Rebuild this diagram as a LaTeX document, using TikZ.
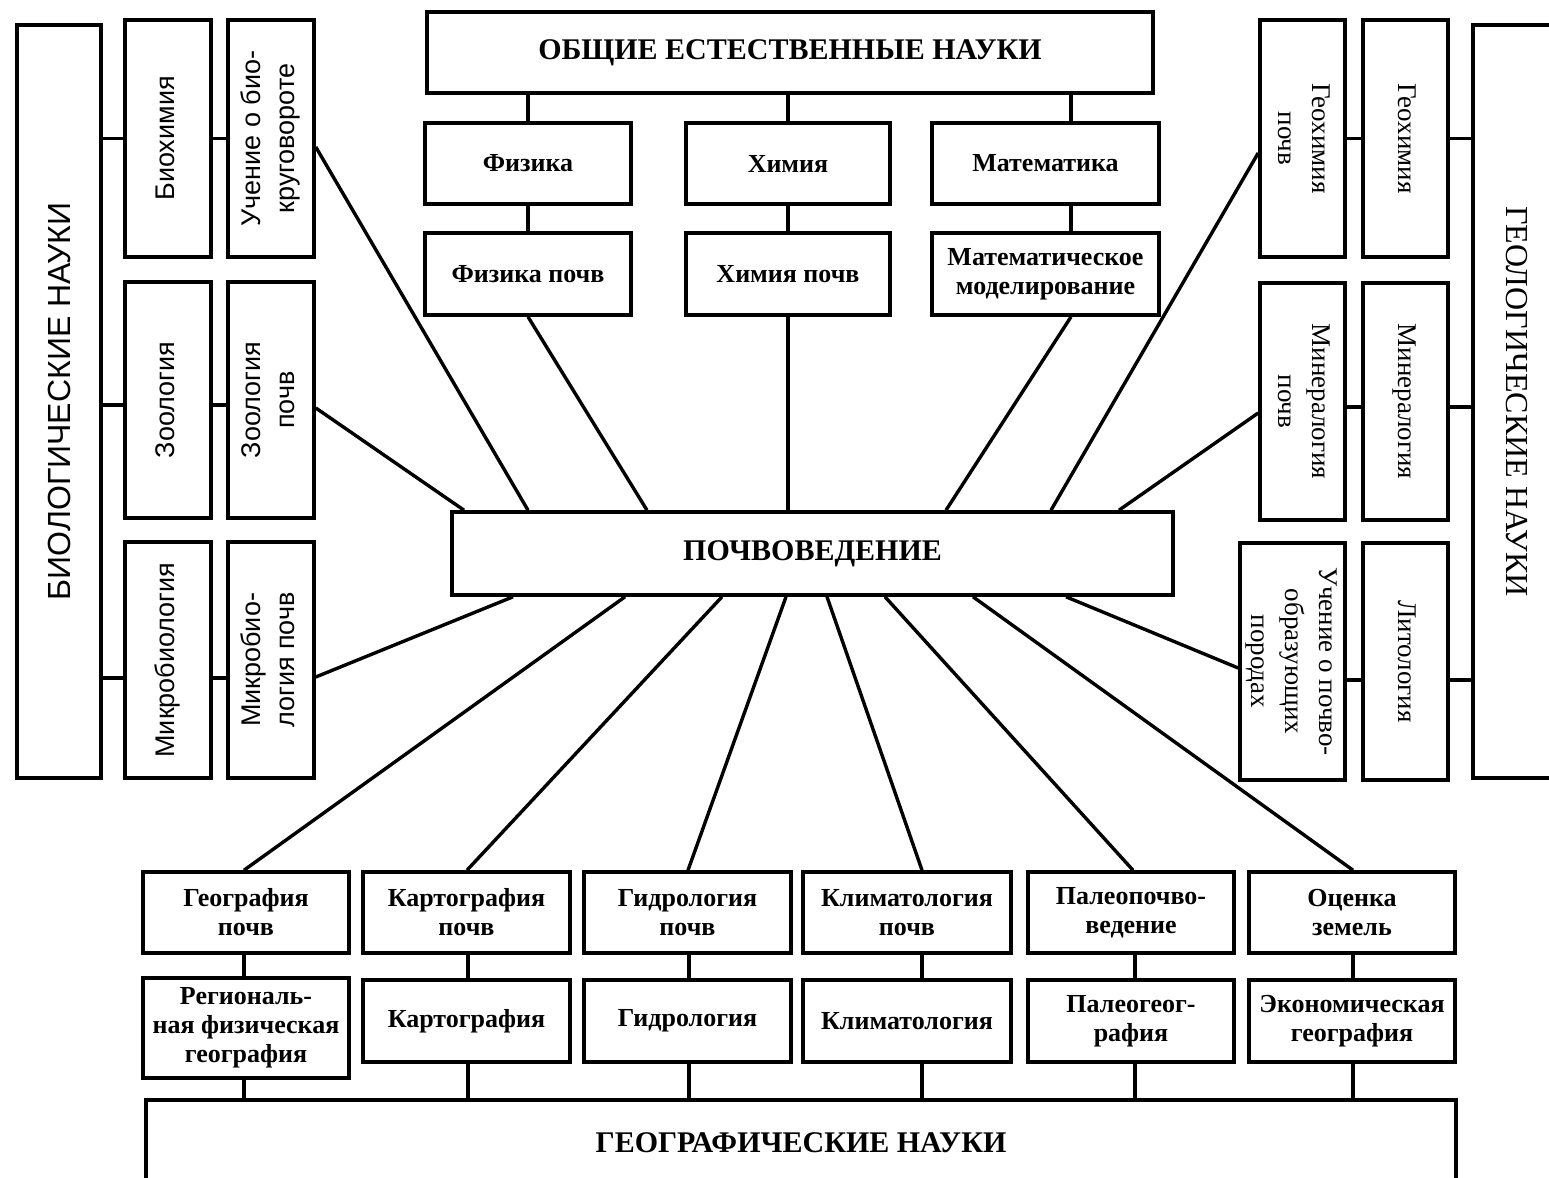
\documentclass[tikz,border=0pt]{standalone}
\usepackage{fontspec}
\usepackage{graphicx}
\setmainfont{Liberation Serif}
\newfontfamily\sansf{Liberation Sans}
\newcommand\ttlfont{\fontsize{15}{18}\selectfont\bfseries}
\newcommand\lblfont{\fontsize{13}{14.5}\selectfont\bfseries}
\newcommand\sidefont{\fontsize{13.5}{17}\selectfont}
\newcommand\rl[1]{\rotatebox{90}{\begin{tabular}{@{}c@{}}#1\end{tabular}}}
\newcommand\rr[1]{\rotatebox{-90}{\begin{tabular}{@{}c@{}}#1\end{tabular}}}
\begin{document}
\begin{tikzpicture}[x=0.5pt,y=-0.5pt,
  box/.style={draw, line width=1.8pt, inner sep=0pt, align=center, font=\lblfont},
  ttl/.style={box, font=\ttlfont},
  lbox/.style={draw, line width=1.8pt, inner sep=0pt, font=\sansf\sidefont},
  rbox/.style={draw, line width=1.8pt, inner sep=0pt, font=\sidefont},
  sz/.style 2 args={minimum width=#1*0.5pt, minimum height=#2*0.5pt},
  ln/.style={line width=1.7pt}]
\useasboundingbox (0,0) rectangle (1549,1178);
\clip (0,0) rectangle (1549,1178);

% top block
\node[ttl, sz={726}{81}] (ob) at (790,52.5) {ОБЩИЕ ЕСТЕСТВЕННЫЕ НАУКИ};
\node[box, sz={206}{81}] (fiz) at (528,163.5) {Физика};
\node[box, sz={204}{81}] (him) at (788,163.5) {Химия};
\node[box, sz={227}{81}] (mat) at (1045.5,163.5) {Математика};
\node[box, sz={206}{82}] (fizp) at (528,274) {Физика почв};
\node[box, sz={204}{82}] (himp) at (788,274) {Химия почв};
\node[box, sz={227}{82}] (matm) at (1045.5,274) {Математическое\\моделирование};

% centre
\node[ttl, sz={721}{83}] (pv) at (812.5,553.5) {ПОЧВОВЕДЕНИЕ};

% left block
\node[lbox, sz={84}{753}] (bio) at (59,401.5) {\rotatebox{90}{\fontsize{16}{19}\selectfont БИОЛОГИЧЕСКИЕ НАУКИ}};
\node[lbox, sz={86}{237}] (bhim) at (168,138.5) {\rl{Биохимия}};
\node[lbox, sz={86}{237}] (ubk) at (271,138.5) {\rl{Учение о био-\\круговороте}};
\node[lbox, sz={86}{236}] (zoo) at (168,400) {\rl{Зоология}};
\node[lbox, sz={86}{236}] (zoop) at (271,400) {\rl{Зоология\\почв}};
\node[lbox, sz={86}{236}] (mic) at (168,660) {\rl{Микробиология}};
\node[lbox, sz={86}{236}] (micp) at (271,660) {\rl{Микробио-\\логия почв}};

% right block
\node[rbox, sz={87}{753}] (geol) at (1516.5,401.5) {\rotatebox{-90}{\fontsize{16}{19}\selectfont ГЕОЛОГИЧЕСКИЕ НАУКИ}};
\node[rbox, sz={85}{237}] (ghp) at (1302.5,138.5) {\rr{Геохимия\\почв}};
\node[rbox, sz={85}{237}] (gh) at (1405.5,138.5) {\rr{Геохимия}};
\node[rbox, sz={85}{237}] (mnp) at (1302.5,401.5) {\rr{Минералогия\\почв}};
\node[rbox, sz={85}{237}] (mn) at (1405.5,401.5) {\rr{Минералогия}};
\node[rbox, sz={105}{237}] (upp) at (1292.5,661.5) {\rr{Учение о почво-\\образующих\\породах}};
\node[rbox, sz={85}{237}] (lit) at (1405.5,661.5) {\rr{Литология}};

% bottom block
\node[box, sz={206}{81}] (g1) at (246,912.5) {География\\почв};
\node[box, sz={206}{100}] (g2) at (246,1028) {Региональ-\\ная физическая\\география};
\node[box, sz={207}{81}] (k1) at (466.5,912.5) {Картография\\почв};
\node[box, sz={207}{82}] (k2) at (466.5,1021) {Картография};
\node[box, sz={207}{81}] (h1) at (687.5,912.5) {Гидрология\\почв};
\node[box, sz={207}{82}] (h2) at (687.5,1021) {Гидрология};
\node[box, sz={208}{81}] (c1) at (907,912.5) {Климатология\\почв};
\node[box, sz={208}{82}] (c2) at (907,1021) {Климатология};
\node[box, sz={206}{81}] (p1) at (1131,912.5) {Палеопочво-\\ведение};
\node[box, sz={206}{82}] (p2) at (1131,1021) {Палеогеог-\\рафия};
\node[box, sz={206}{81}] (o1) at (1352,912.5) {Оценка\\земель};
\node[box, sz={206}{82}] (o2) at (1352,1021) {Экономическая\\география};
\node[ttl, sz={1310}{85}] (geo) at (801,1142.5) {ГЕОГРАФИЧЕСКИЕ НАУКИ};

% top connectors
\draw[ln] (ob.south -| fiz) -- (fiz.north);
\draw[ln] (ob.south -| him) -- (him.north);
\draw[ln] (ob.south -| 1071,0) -- (mat.north -| 1071,0);
\draw[ln] (fiz.south) -- (fizp.north);
\draw[ln] (him.south) -- (himp.north);
\draw[ln] (mat.south -| 1071,0) -- (matm.north -| 1071,0);

% radial connectors, upper side
\draw[ln] (fizp.south) -- (pv.north -| 647,0);
\draw[ln] (himp.south) -- (himp.south |- pv.north);
\draw[ln] (matm.south -| 1071,0) -- (pv.north -| 946,0);
\draw[ln] (ubk.east |- 0,147) -- (pv.north -| 528,0);
\draw[ln] (zoop.east |- 0,408) -- (pv.north -| 464,0);
\draw[ln] (ghp.west |- 0,153) -- (pv.north -| 1051,0);
\draw[ln] (mnp.west |- 0,413) -- (pv.north -| 1119,0);

% radial connectors, lower side
\draw[ln] (micp.east |- 0,677) -- (pv.south -| 513,0);
\draw[ln] (upp.west |- 0,668) -- (pv.south -| 1066,0);
\draw[ln] (pv.south -| 625,0) -- (g1.north -| 244,0);
\draw[ln] (pv.south -| 722,0) -- (k1.north -| 467,0);
\draw[ln] (pv.south -| 786,0) -- (h1.north -| 688,0);
\draw[ln] (pv.south -| 827,0) -- (c1.north -| 922,0);
\draw[ln] (pv.south -| 885,0) -- (p1.north -| 1133,0);
\draw[ln] (pv.south -| 973,0) -- (o1.north -| 1353,0);

% left horizontal connectors
\draw[ln] (bio.east |- bhim) -- (bhim.west);
\draw[ln] (bhim.east) -- (ubk.west);
\draw[ln] (bio.east |- 0,405) -- (zoo.west |- 0,405);
\draw[ln] (zoo.east |- 0,405) -- (zoop.west |- 0,405);
\draw[ln] (bio.east |- 0,678) -- (mic.west |- 0,678);
\draw[ln] (mic.east |- 0,678) -- (micp.west |- 0,678);

% right horizontal connectors
\draw[ln] (ghp.east) -- (gh.west);
\draw[ln] (gh.east) -- (geol.west |- gh);
\draw[ln] (mnp.east |- 0,407) -- (mn.west |- 0,407);
\draw[ln] (mn.east |- 0,407) -- (geol.west |- 0,407);
\draw[ln] (upp.east |- 0,680) -- (lit.west |- 0,680);
\draw[ln] (lit.east |- 0,680) -- (geol.west |- 0,680);

% bottom vertical connectors
\draw[ln] (g1.south -| 244,0) -- (g2.north -| 244,0);
\draw[ln] (g2.south -| 244,0) -- (geo.north -| 244,0);
\draw[ln] (k1.south -| 468,0) -- (k2.north -| 468,0);
\draw[ln] (k2.south -| 468,0) -- (geo.north -| 468,0);
\draw[ln] (h1.south -| 689,0) -- (h2.north -| 689,0);
\draw[ln] (h2.south -| 689,0) -- (geo.north -| 689,0);
\draw[ln] (c1.south -| 922,0) -- (c2.north -| 922,0);
\draw[ln] (c2.south -| 922,0) -- (geo.north -| 922,0);
\draw[ln] (p1.south -| 1135,0) -- (p2.north -| 1135,0);
\draw[ln] (p2.south -| 1135,0) -- (geo.north -| 1135,0);
\draw[ln] (o1.south -| 1353,0) -- (o2.north -| 1353,0);
\draw[ln] (o2.south -| 1353,0) -- (geo.north -| 1353,0);
\end{tikzpicture}
\end{document}
